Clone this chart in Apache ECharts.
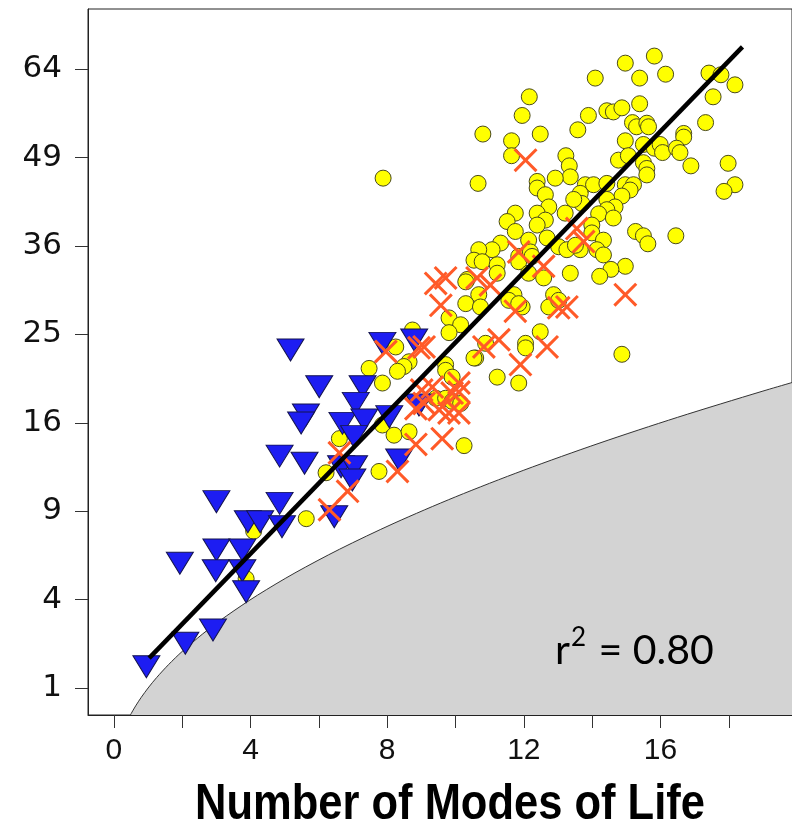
<!DOCTYPE html>
<html><head><meta charset="utf-8">
<script src="https://cdn.jsdelivr.net/npm/echarts@6/dist/echarts.min.js"></script>
<style>html,body{margin:0;padding:0;background:#fff}#chart{width:792px;height:832px}</style>
</head><body><div id="chart"></div>
<script>
// ---- data (x = number of modes of life, y = genera, y axis on a square-root scale) ----
const circles = [
[15.82,66.4],[14.97,65.1],[14.09,62.4],[15.39,62.4],[16.15,63.1],[17.42,63.3],[17.77,63.0],[18.18,61.2],[17.54,59.1],[12.16,59.1],
[11.95,55.9],[12.48,52.8],[10.80,52.8],[11.64,51.7],[11.64,49.3],[13.89,55.9],[13.58,53.5],[14.43,56.7],[14.62,56.5],[14.87,57.2],
[15.39,57.9],[15.18,54.7],[15.30,54.0],[15.60,54.6],[15.65,54.0],[14.97,51.7],[17.32,54.7],[16.68,52.9],[16.68,52.3],[15.50,51.1],
[15.82,50.5],[15.99,51.1],[16.06,49.8],[16.47,50.5],[16.57,49.8],[14.77,48.6],[15.06,49.3],[15.50,48.2],[15.60,47.3],[16.89,47.7],
[17.98,48.1],[13.23,49.3],[13.33,47.7],[18.18,44.8],[17.86,43.8],[15.60,46.3],[13.80,44.8],[14.04,44.8],[14.43,45.0],[14.97,44.8],
[15.21,44.8],[15.11,44.0],[14.87,43.1],[14.43,42.6],[14.67,41.5],[14.43,41.1],[14.19,40.5],[14.62,39.9],[13.65,43.5],[13.70,42.0],
[13.99,38.9],[13.99,37.8],[14.33,36.8],[14.14,35.5],[14.33,34.8],[13.65,35.5],[15.27,38.0],[15.50,37.4],[15.63,36.3],[16.45,37.4],
[14.97,33.3],[14.55,32.9],[14.22,32.0],[10.66,45.0],[13.36,46.0],[12.92,45.8],[12.39,45.3],[12.39,44.3],[12.63,43.3],[12.73,41.5],
[13.46,42.6],[13.21,40.6],[12.39,40.6],[12.63,39.6],[12.39,38.9],[11.75,40.6],[11.51,39.4],[11.75,38.0],[11.32,36.4],[11.07,35.5],
[10.68,35.5],[10.54,34.1],[10.78,33.9],[11.22,33.5],[11.22,32.4],[12.14,36.8],[12.68,37.1],[13.02,35.9],[13.26,35.5],[13.51,36.1],
[11.85,34.6],[11.85,33.9],[12.19,35.2],[12.24,34.6],[12.14,32.4],[12.58,31.8],[13.36,32.4],[10.34,31.6],[10.68,29.7],[10.30,28.6],
[10.73,28.2],[11.71,29.7],[11.56,29.0],[11.95,28.2],[12.87,29.7],[12.73,28.2],[13.02,29.0],[9.81,26.9],[10.15,26.1],[9.81,25.2],
[11.85,28.6],[12.48,25.3],[12.05,24.0],[12.05,23.5],[10.88,24.0],[10.59,22.4],[9.71,21.7],[9.71,21.1],[9.90,20.4],[11.22,20.4],
[11.85,19.8],[9.42,18.3],[9.71,18.3],[9.90,18.0],[10.15,17.8],[10.25,14.0],[10.30,31.3],[8.74,25.5],[8.25,23.6],[8.64,22.0],
[8.49,21.5],[8.30,21.0],[7.47,21.3],[7.86,19.8],[10.54,22.4],[7.86,15.8],[8.20,14.9],[8.64,15.2],[6.60,14.6],[6.21,11.8],
[7.76,11.9],[5.63,8.5],[4.09,7.7],[3.87,5.0],[7.88,45.8],[14.87,22.8]
];
const crosses = [
[12.05,48.6],[14.97,29.7],[13.75,36.6],[13.55,38.4],[11.85,35.2],[12.58,33.3],[10.63,31.8],[11.02,30.9],[9.42,31.1],[9.71,31.8],
[9.57,28.4],[11.75,27.7],[13.02,28.1],[13.26,28.2],[11.27,24.4],[10.83,23.6],[12.68,23.6],[11.90,21.7],[9.08,23.6],[9.32,19.4],
[10.10,19.8],[9.52,17.2],[10.10,16.9],[9.61,14.6],[9.08,17.8],[7.96,23.1],[8.93,23.5],[9.01,19.1],[10.10,18.9],[8.84,17.3],
[6.60,13.4],[6.84,10.4],[6.31,9.1],[8.30,11.9],[8.84,14.1],[9.81,16.9],[9.90,18.8]
];
const triangles = [
[0.95,1.54],[2.09,2.27],[2.90,2.74],[1.93,5.81],[3.00,9.66],[3.00,6.56],[2.98,5.41],[3.76,6.56],[3.76,5.41],[3.87,4.36],
[3.92,8.30],[4.28,8.30],[4.92,7.98],[4.85,9.54],[4.85,13.13],[5.17,23.27],[5.62,16.71],[5.48,15.98],[5.58,12.55],[6.01,19.43],
[7.28,19.43],[7.08,17.81],[6.69,15.95],[7.33,16.26],[8.06,16.56],[7.03,14.77],[6.65,12.27],[7.03,12.27],[6.98,11.24],[8.35,12.81],
[8.93,17.65],[7.86,24.0],[8.79,24.37],[6.45,8.63]
];
const regLineX = [1.03, 18.40];
const regLineY = [1.79, 68.1];
const boundaryX = [0.48, 0.55, 0.65, 0.8, 1.0, 1.25, 1.6, 2.0, 2.6, 3.3, 4.2, 5.3, 6.6, 8.2, 10.0, 12.0, 14.2, 16.5, 19.0, 20.5];
const boundaryY = [0.48, 0.55, 0.65, 0.8, 1.0, 1.25, 1.6, 2.0, 2.6, 3.3, 4.2, 5.3, 6.6, 8.2, 10.0, 12.0, 14.2, 16.5, 19.0, 20.5];
const xTickValues = [0, 2, 4, 6, 8, 10, 12, 14, 16, 18];
const xLabelValues = [0, 4, 8, 12, 16];
const yTickLabels = [1, 4, 9, 16, 25, 36, 49, 64];
const xTitle = 'Number of Modes of Life';
const r2Text = '0.80';

// ---- build ----
const sq = p => [p[0], Math.sqrt(p[1])];
const chart = echarts.init(document.getElementById('chart'), null, {renderer: 'canvas'});
const crossPath = 'path://M0.9,0L5,4.1L9.1,0L10,0.9L5.9,5L10,9.1L9.1,10L5,5.9L0.9,10L0,9.1L4.1,5L0,0.9Z';
const triPath = 'path://M0,0L10,0L5,8.2Z';
const labelFont = "'Liberation Sans', Arial, sans-serif";

chart.setOption({
  animation: false,
  backgroundColor: '#ffffff',
  grid: {left: 88, top: 9, right: -2, bottom: 117, show: true, borderColor: '#222', borderWidth: 1, backgroundColor: 'transparent'},
  xAxis: {
    type: 'value', min: -0.759, max: 19.85, z: 10,
    axisLine: {show: true, onZero: false, lineStyle: {color: '#222', width: 1}},
    splitLine: {show: false},
    axisTick: {show: true, length: 13, customValues: xTickValues, lineStyle: {color: '#333', width: 1}},
    axisLabel: {customValues: xLabelValues, fontSize: 30, color: '#111', margin: 21, fontFamily: labelFont}
  },
  yAxis: {
    type: 'value', min: 0.6946, max: 8.681, z: 10,
    axisLine: {show: true, onZero: false, lineStyle: {color: '#222', width: 1}},
    splitLine: {show: false},
    axisTick: {show: true, length: 13, customValues: yTickLabels.map(Math.sqrt), lineStyle: {color: '#333', width: 1}},
    axisLabel: {customValues: yTickLabels.map(Math.sqrt), fontSize: 31, color: '#111', margin: 26,
      fontFamily: "'DejaVu Sans', 'Liberation Sans', sans-serif",
      formatter: v => String(Math.round(v * v))}
  },
  series: [
    {
      type: 'line', silent: true, smooth: 0.3, symbol: 'none', z: 1,
      data: boundaryX.map((x, i) => [x, Math.sqrt(boundaryY[i])]),
      lineStyle: {color: '#333', width: 1},
      areaStyle: {color: '#D3D3D3', opacity: 1, origin: 'start'}
    },
    {
      type: 'scatter', symbol: 'circle', symbolSize: 16, z: 2,
      data: circles.map(sq),
      itemStyle: {color: '#FFFF00', borderColor: '#4a4a1c', borderWidth: 1, opacity: 1}
    },
    {
      type: 'scatter', symbol: triPath, symbolSize: [27, 22], z: 3,
      data: triangles.map(sq),
      itemStyle: {color: '#1d1df2', borderColor: '#15154f', borderWidth: 1, opacity: 1}
    },
    {
      type: 'scatter', symbol: crossPath, symbolSize: 24, z: 4,
      data: crosses.map(sq),
      itemStyle: {color: '#FF5A28', opacity: 1}
    },
    {
      type: 'line', silent: true, symbol: 'none', z: 5,
      data: regLineX.map((x, i) => [x, Math.sqrt(regLineY[i])]),
      lineStyle: {color: '#000', width: 4.5}
    }
  ],
  graphic: [
    {
      type: 'text', x: 450, y: 805, scaleX: 0.87, z: 100,
      style: {text: xTitle, font: "bold 50px 'Liberation Sans', Arial, sans-serif", fill: '#000',
        textAlign: 'center', textVerticalAlign: 'middle', align: 'center', verticalAlign: 'middle'}
    },
    {
      type: 'text', x: 555, y: 648, z: 100,
      style: {
        text: '{a|r}{s|2}{a| = ' + r2Text + '}',
        textAlign: 'left', textVerticalAlign: 'middle', align: 'left', verticalAlign: 'middle',
        rich: {
          a: {fontSize: 41, fontFamily: 'Lato', color: '#000', verticalAlign: 'bottom', lineHeight: 46},
          s: {fontSize: 26, fontFamily: 'Lato', color: '#000', verticalAlign: 'top', lineHeight: 30, padding: [0, 2, 0, 1]}
        }
      }
    }
  ]
});
</script>
</body></html>
